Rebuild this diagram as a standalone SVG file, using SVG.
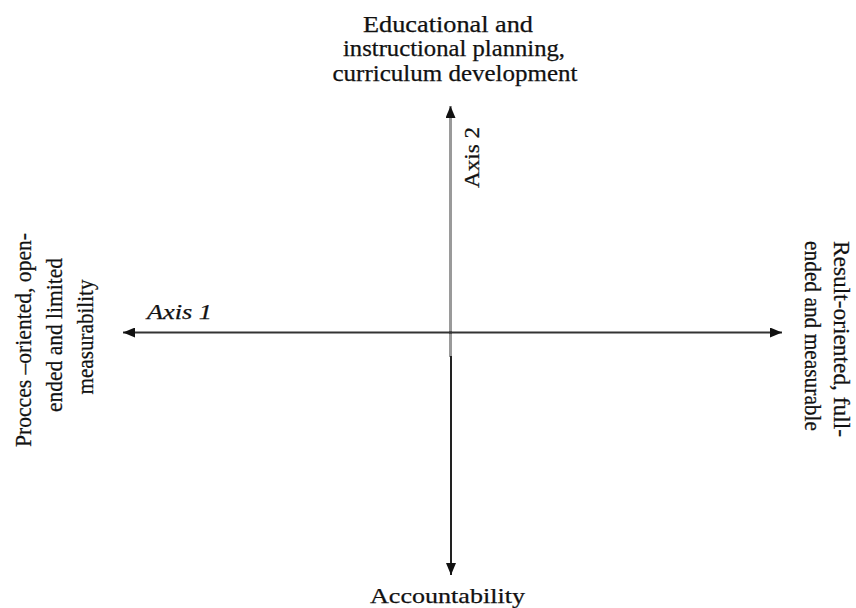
<svg xmlns="http://www.w3.org/2000/svg" width="856" height="608" viewBox="0 0 856 608">
<style>
.t{font-family:"Liberation Serif","Times New Roman",serif;fill:#111;stroke:#111;stroke-width:0.25;}
.ax{stroke:#333;stroke-width:2;fill:none;}
</style>
<defs>
<marker id="ah" viewBox="0 0 12 10" refX="12" refY="5" markerWidth="12" markerHeight="10" markerUnits="userSpaceOnUse" orient="auto">
<path d="M0,0 L12,5 L0,10 Z" fill="#111"/>
</marker>
</defs>
<rect width="856" height="608" fill="#fff"/>
<g id="connectors">
<line class="ax" x1="450.5" y1="357" x2="450.5" y2="106" style="stroke:#9a9a9a;stroke-width:3" marker-end="url(#ah)"/>
<line class="ax" x1="451" y1="356" x2="451" y2="575" style="stroke:#222" marker-end="url(#ah)"/>
<line class="ax" x1="452" y1="332.5" x2="123" y2="332.5" marker-end="url(#ah)"/>
<line class="ax" x1="449" y1="332.5" x2="782" y2="332.5" marker-end="url(#ah)"/>
</g>
<g id="top">
<text class="t" font-size="23" x="448" y="32" text-anchor="middle" textLength="170" lengthAdjust="spacingAndGlyphs">Educational and</text>
<text class="t" font-size="23" x="454" y="56" text-anchor="middle" textLength="222" lengthAdjust="spacingAndGlyphs">instructional planning,</text>
<text class="t" font-size="23" x="455" y="81" text-anchor="middle" textLength="245" lengthAdjust="spacingAndGlyphs">curriculum development</text>
</g>
<g id="bottom">
<text class="t" font-size="22" x="447.5" y="603" text-anchor="middle" textLength="155" lengthAdjust="spacingAndGlyphs">Accountability</text>
</g>
<g id="left">
<text class="t" font-size="24" transform="translate(31,340) rotate(-90)" text-anchor="middle" textLength="214" lengthAdjust="spacingAndGlyphs">Procces –oriented, open-</text>
<text class="t" font-size="24" transform="translate(62,335) rotate(-90)" text-anchor="middle" textLength="154" lengthAdjust="spacingAndGlyphs">ended and limited</text>
<text class="t" font-size="24" transform="translate(93,337) rotate(-90)" text-anchor="middle" textLength="115" lengthAdjust="spacingAndGlyphs">measurability</text>
</g>
<g id="right">
<text class="t" font-size="23" transform="translate(834,241) rotate(90)" textLength="196" lengthAdjust="spacingAndGlyphs">Result-oriented, full-</text>
<text class="t" font-size="23" transform="translate(805,241) rotate(90)" textLength="190" lengthAdjust="spacingAndGlyphs">ended and measurable</text>
</g>
<g id="axis1">
<text class="t" font-size="20" font-style="italic" x="147" y="319" textLength="65" lengthAdjust="spacingAndGlyphs">Axis 1</text>
</g>
<g id="axis2">
<text class="t" font-size="22" transform="translate(479,188) rotate(-90)" textLength="61" lengthAdjust="spacingAndGlyphs">Axis 2</text>
</g>
</svg>
